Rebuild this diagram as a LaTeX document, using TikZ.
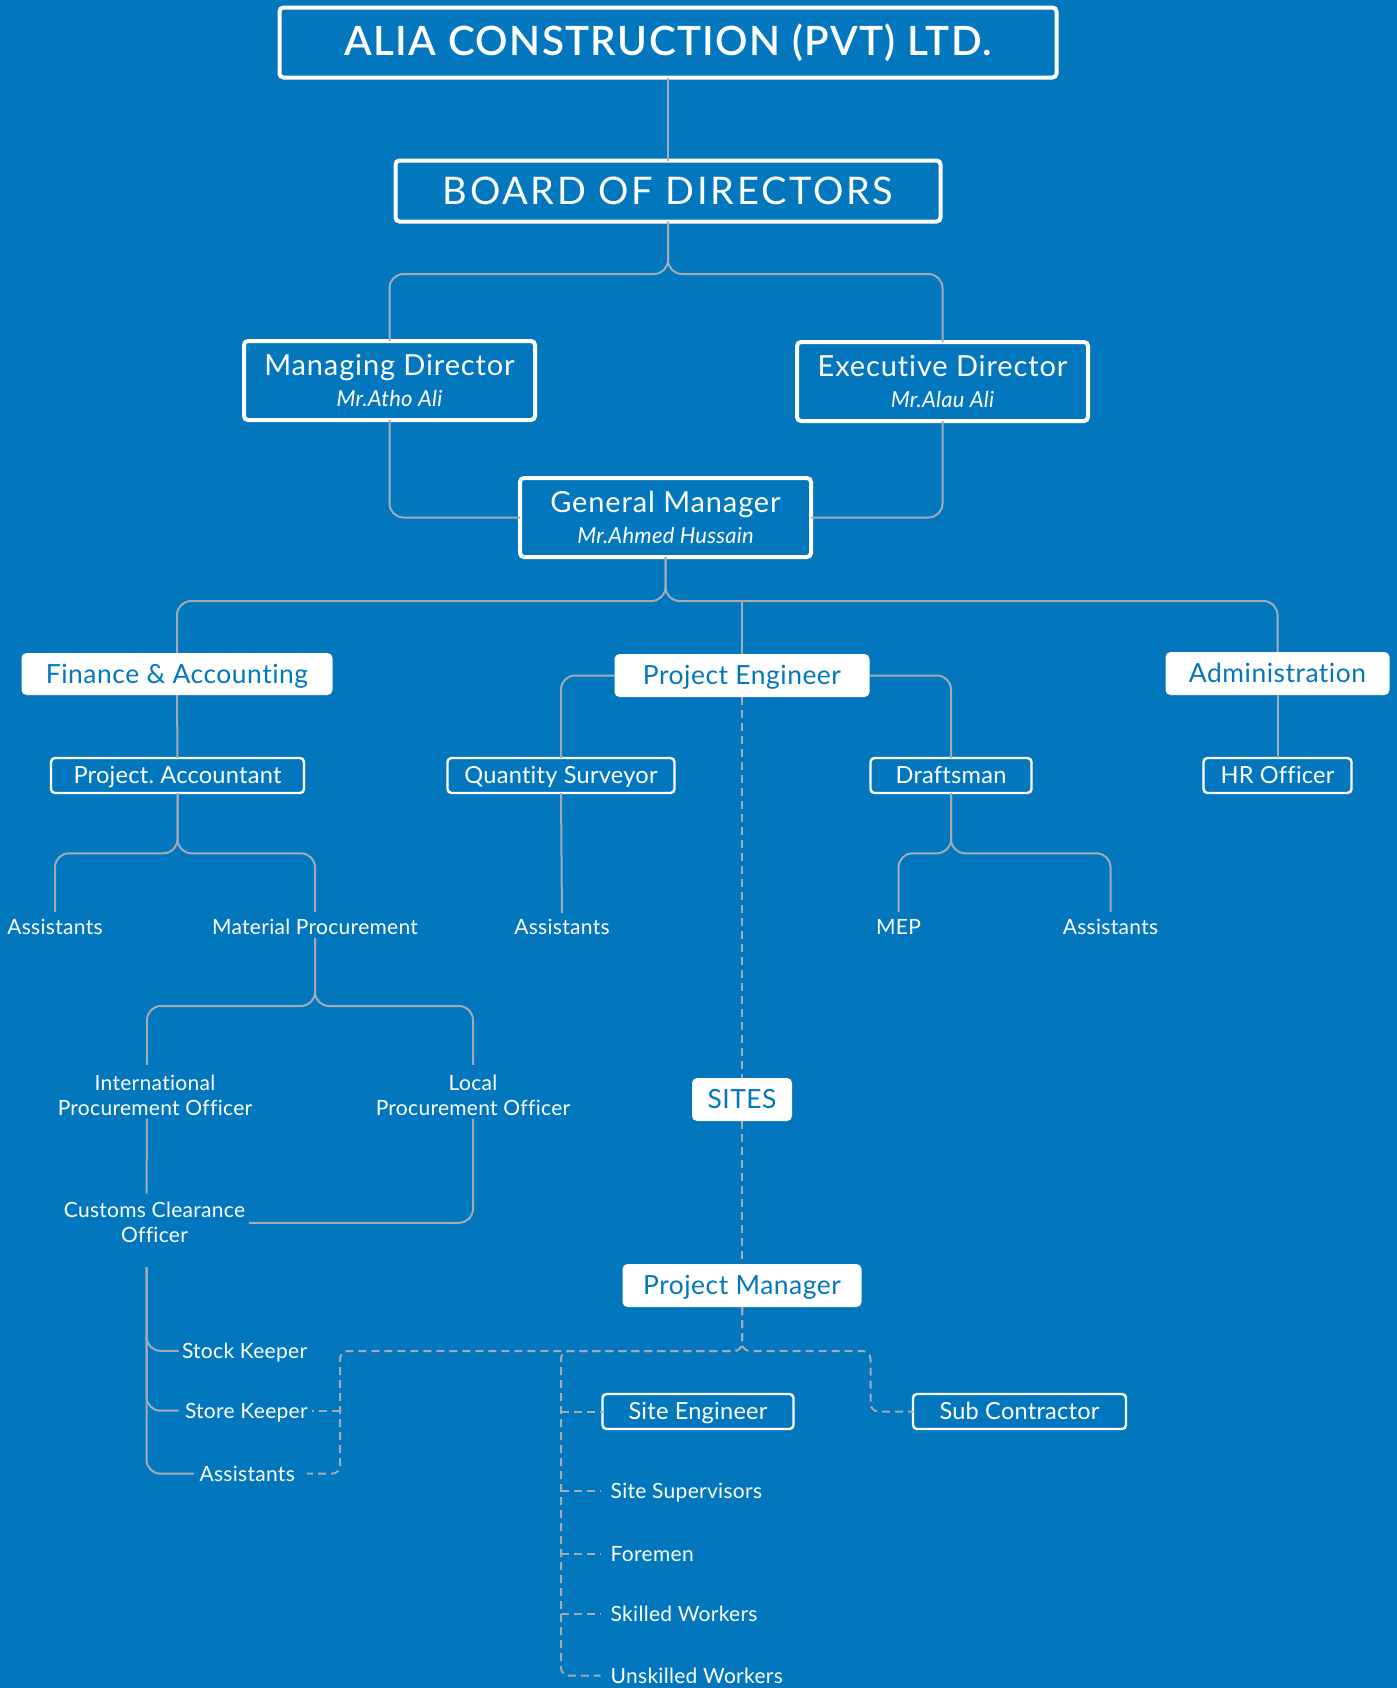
\documentclass[tikz,border=0pt]{standalone}
\usepackage{fontspec}
\setmainfont{Lato}[Ligatures=NoCommon]
\newfontfamily\semib{Lato Semibold}[Ligatures=NoCommon]
\usetikzlibrary{calc}
\definecolor{bgblue}{RGB}{2,119,189}
\definecolor{lgray}{RGB}{163,170,178}
\frenchspacing
\begin{document}
\begin{tikzpicture}[x=0.5pt,y=-0.5pt,
  every node/.style={inner sep=0pt, outer sep=0pt},
  obox/.style={draw=white, line width=2pt, rounded corners=2pt, text=white},
  sbox/.style={draw=white, line width=1.2pt, rounded corners=2pt, text=white,
    font=\fontsize{11.8}{14}\selectfont\addfontfeatures{LetterSpace=1}, text height=8.45pt, text depth=0pt},
  wbox/.style={fill=white, rounded corners=2.5pt, text=bgblue,
    font=\fontsize{13.2}{15}\selectfont\addfontfeatures{LetterSpace=2}, text height=9.4pt, text depth=0pt},
  ttl/.style={text=white, font=\fontsize{14.5}{17}\selectfont\addfontfeatures{LetterSpace=3}, anchor=base},
  nm/.style={text=white, font=\fontsize{11}{13}\selectfont\itshape\addfontfeatures{LetterSpace=1}, anchor=base},
  lbl/.style={text=white, font=\fontsize{10.5}{12.5}\selectfont\addfontfeatures{LetterSpace=1.4}, text height=7.5pt, text depth=0pt},
  mlbl/.style={text=white, font=\fontsize{10.5}{12.5}\selectfont\addfontfeatures{LetterSpace=1.4}, align=center},
  conn/.style={draw=lgray, line width=1pt, rounded corners=7pt},
  dconn/.style={draw=lgray, line width=1pt, dash pattern=on 4pt off 2.5pt, rounded corners=4pt},
]
\fill[bgblue] (0,0) rectangle (1397,1688);
\useasboundingbox (0,0) rectangle (1397,1688);

% ---- top levels
\node[obox, minimum width=388.5pt, minimum height=35pt, font=\semib\fontsize{20.2}{24}\selectfont\addfontfeatures{LetterSpace=3.4}] (title) at (668,42.5) {ALIA CONSTRUCTION (PVT) LTD.};
\node[obox, minimum width=272.5pt, minimum height=30.5pt, font=\fontsize{19}{22}\selectfont\addfontfeatures{LetterSpace=7}] (board) at (668,191) {BOARD OF DIRECTORS};

\node[obox, minimum width=145.5pt, minimum height=39.5pt] (MD) at (389.5,380.5) {};
\node[ttl] (mdT) at (389.5,375) {Managing Director};
\node[nm] (mdN) at (389.5,406.5) {Mr.Atho Ali};

\node[obox, minimum width=145.5pt, minimum height=39.5pt] (ED) at (942.5,381.5) {};
\node[ttl] (edT) at (942.5,376) {Executive Director};
\node[nm] (edN) at (942.5,407.5) {Mr.Alau Ali};

\node[obox, minimum width=145.5pt, minimum height=39.5pt] (GM) at (665.5,517.5) {};
\node[ttl] (gmT) at (665.5,512) {General Manager};
\node[nm] (gmN) at (665.5,543.5) {Mr.Ahmed Hussain};

% ---- departments
\node[wbox, minimum width=155.5pt, minimum height=21pt] (Fin) at (177,674) {Finance \& Accounting};
\node[wbox, minimum width=127.5pt, minimum height=21.5pt] (PE) at (742,675.5) {Project Engineer};
\node[wbox, minimum width=112pt, minimum height=21.5pt] (Adm) at (1277.5,673.5) {Administration};

\node[sbox, minimum width=126.5pt, minimum height=17.5pt] (PA) at (177.5,775.5) {Project. Accountant};
\node[sbox, minimum width=113.5pt, minimum height=17.5pt] (QS) at (561,775.5) {Quantity Surveyor};
\node[sbox, minimum width=80.5pt, minimum height=17.5pt] (Draft) at (951,775.5) {Draftsman};
\node[sbox, minimum width=74pt, minimum height=17.5pt] (HR) at (1277.5,775.5) {HR Officer};

\node[lbl] (a1) at (55,926.5) {Assistants};
\node[lbl] (mp) at (315,926.5) {Material Procurement};
\node[lbl] (a2) at (562,926.5) {Assistants};
\node[lbl] (mep) at (898.6,926.5) {MEP};
\node[lbl] (a3) at (1110.5,926.5) {Assistants};

\node[mlbl] (intl) at (155,1095.3) {International\\Procurement Officer};
\node[mlbl] (local) at (473,1095.3) {Local\\Procurement Officer};
\node[mlbl] (cust) at (154.5,1222.8) {Customs Clearance\\Officer};

\node[lbl, anchor=west] (stock) at (182,1350.8) {Stock Keeper};
\node[lbl, anchor=west] (store) at (185,1410.7) {Store Keeper};
\node[lbl, anchor=west] (a4) at (199.5,1473.7) {Assistants};

% ---- sites
\node[wbox, minimum width=50pt, minimum height=21.5pt] (SITES) at (742,1099.5) {SITES};
\node[wbox, minimum width=119.5pt, minimum height=21.5pt] (PM) at (742,1285.5) {Project Manager};
\node[sbox, minimum width=95.5pt, minimum height=17.5pt] (SE) at (698,1411.5) {Site Engineer};
\node[sbox, minimum width=106.5pt, minimum height=17.5pt] (SC) at (1019.5,1411.5) {Sub Contractor};

\node[lbl, anchor=west] (sup) at (610.7,1490.7) {Site Supervisors};
\node[lbl, anchor=west] (fore) at (610.7,1553.7) {Foremen};
\node[lbl, anchor=west] (skill) at (610.7,1614) {Skilled Workers};
\node[lbl, anchor=west] (unsk) at (610.7,1675.7) {Unskilled Workers};

% ---- solid connectors
\coordinate (bsplit) at (668,274);
\coordinate (gsplit) at (665.5,601);
\coordinate (pasplit) at (177.5,853.3);
\coordinate (dsplit) at (951,853.3);
\coordinate (mpsplit) at (315,1006);

\draw[conn] (title.south) -- (board.north);
\draw[conn] (board.south) -- (bsplit) -| (MD.north);
\draw[conn] (board.south) -- (bsplit) -| (ED.north);
\draw[conn] (MD.south) |- (GM.west);
\draw[conn] (ED.south) |- (GM.east);
\draw[conn] (GM.south) -- (gsplit) -| (Fin.north);
\draw[conn] (GM.south) -- (gsplit) -| (Adm.north);
\draw[conn] (PE.north |- gsplit) -- (PE.north);
\draw[conn] (Fin.south) -- (PA.north);
\draw[conn] (PE.west) -| (QS.north);
\draw[conn] (PE.east) -| (Draft.north);
\draw[conn] (Adm.south) -- (HR.north);
\draw[conn, shorten >=3.5pt] (PA.south) -- (pasplit) -| (a1.north);
\draw[conn, shorten >=3.5pt] (PA.south) -- (pasplit) -| (mp.north);
\draw[conn, shorten >=3pt] (QS.south) -- (a2.north);
\draw[conn, shorten >=3.5pt] (Draft.south) -- (dsplit) -| (mep.north);
\draw[conn, shorten >=3.5pt] (Draft.south) -- (dsplit) -| (a3.north);
\draw[conn, shorten <=2pt, shorten >=5pt] (mp.south) -- (mpsplit) -| ([xshift=-4pt]intl.north);
\draw[conn, shorten <=2pt, shorten >=5pt] (mp.south) -- (mpsplit) -| (local.north);
\draw[conn, shorten <=1.5pt, shorten >=4.5pt] ([xshift=-4pt]intl.south) -- ([xshift=-4pt]cust.north);
\draw[conn, shorten <=1.5pt, shorten >=2pt] (local.south) |- (cust.east);
\draw[conn, shorten <=12pt, shorten >=1.7pt] ([xshift=-4pt]cust.south) |- (stock.west);
\draw[conn, shorten <=12pt, shorten >=3.2pt] ([xshift=-4pt]cust.south) |- (store.west);
\draw[conn, shorten <=12pt, shorten >=2.7pt] ([xshift=-4pt]cust.south) |- (a4.west);

% ---- dashed connectors
\coordinate (pmsplit) at (742,1351);
\coordinate (dl) at (340,1351);
\coordinate (dr) at (561,1351);
\coordinate (dsc) at (870.5,1351);
\draw[dconn] (PE.south) -- (SITES.north);
\draw[dconn] (SITES.south) -- (PM.north);
\draw[dconn, shorten >=6pt] (PM.south) -- (pmsplit) -- (dl) |- (a4.east);
\draw[dconn, shorten >=2pt] (dl |- store.east) -- (store.east);
\draw[dconn, shorten >=5pt] (PM.south) -- (pmsplit) -- (dr) |- (unsk.west);
\draw[dconn] (dr |- SE.west) -- (SE.west);
\draw[dconn, shorten >=5pt] (dr |- sup.west) -- (sup.west);
\draw[dconn, shorten >=5pt] (dr |- fore.west) -- (fore.west);
\draw[dconn, shorten >=5pt] (dr |- skill.west) -- (skill.west);
\draw[dconn] (PM.south) -- (pmsplit) -- (dsc) |- (SC.west);
\end{tikzpicture}
\end{document}
